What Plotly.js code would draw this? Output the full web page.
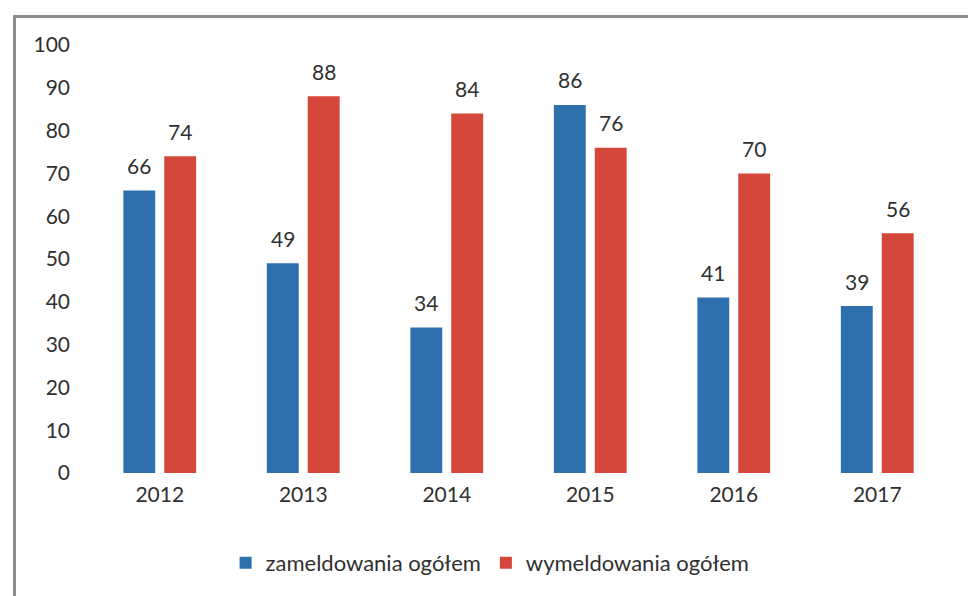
<!DOCTYPE html>
<html>
<head>
<meta charset="utf-8">
<script src="https://cdn.plot.ly/plotly-3.0.1.min.js"></script>
<style>
    html, body { margin: 0; padding: 0; background: #fff; }
    #wrap { position: relative; width: 968px; height: 596px; }
    #chart { width: 968px; height: 596px; }
    /* scanned frame round the chart */
    #frame {
        position: absolute; left: 13px; top: 15px; width: 970px; height: 600px;
        border-left: 3px solid #8c8c8c; border-top: 3px solid #8c8c8c;
        pointer-events: none;
    }
</style>
</head>
<body>
<div id="wrap">
    <div id="chart"></div>
    <div id="frame"></div>
</div>
<script>
// data
var years = ['2012', '2013', '2014', '2015', '2016', '2017'];
var zameldowania = [66, 49, 34, 86, 41, 39];
var wymeldowania = [74, 88, 84, 76, 70, 56];
var yTicks = [0, 10, 20, 30, 40, 50, 60, 70, 80, 90, 100];

var blue = '#2e6fae';
var red = '#d5473a';
var fontFam = 'Lato, "Open Sans", sans-serif';
var txtColor = '#303030';

var data = [{
    name: 'zameldowania ogółem',
    type: 'bar',
    x: years,
    y: zameldowania,
    marker: { color: blue },
    hoverinfo: 'y'
}, {
    name: 'wymeldowania ogółem',
    type: 'bar',
    x: years,
    y: wymeldowania,
    marker: { color: red },
    hoverinfo: 'y'
}];

// value labels above the bars (x given as category index)
var annotations = [];
years.forEach(function (yr, i) {
    annotations.push({
        x: i, y: zameldowania[i], xref: 'x', yref: 'y',
        text: String(zameldowania[i]), showarrow: false,
        xshift: -20.5, yshift: 25, yanchor: 'middle',
        font: { family: fontFam, size: 21, color: txtColor }
    });
    annotations.push({
        x: i, y: wymeldowania[i], xref: 'x', yref: 'y',
        text: String(wymeldowania[i]), showarrow: false,
        xshift: 20.5, yshift: 25, yanchor: 'middle',
        font: { family: fontFam, size: 21, color: txtColor }
    });
});

var layout = {
    width: 968,
    height: 596,
    paper_bgcolor: '#fff',
    plot_bgcolor: '#fff',
    font: { family: fontFam, size: 21, color: txtColor },
    barmode: 'group',
    bargap: 0.43,
    bargroupgap: 0.22,
    margin: { l: 88, r: 19, t: 45, b: 123 },
    xaxis: {
        type: 'category',
        showline: false,
        showgrid: false,
        zeroline: false,
        ticks: '',
        ticklabelstandoff: 7,
        tickfont: { family: fontFam, size: 21, color: txtColor }
    },
    yaxis: {
        range: [0, 100],
        tickvals: yTicks,
        showline: false,
        showgrid: false,
        zeroline: false,
        ticks: '',
        ticklabelstandoff: 17,
        tickfont: { family: fontFam, size: 21, color: txtColor }
    },
    showlegend: true,
    legend: {
        orientation: 'h',
        x: 0.467,
        xanchor: 'center',
        y: -0.21,
        yanchor: 'middle',
        font: { family: fontFam, size: 22, color: txtColor },
        itemwidth: 30,
        tracegroupgap: 0
    },
    annotations: annotations
};

var config = { staticPlot: true };

Plotly.newPlot('chart', data, layout, config);
</script>
</body>
</html>
